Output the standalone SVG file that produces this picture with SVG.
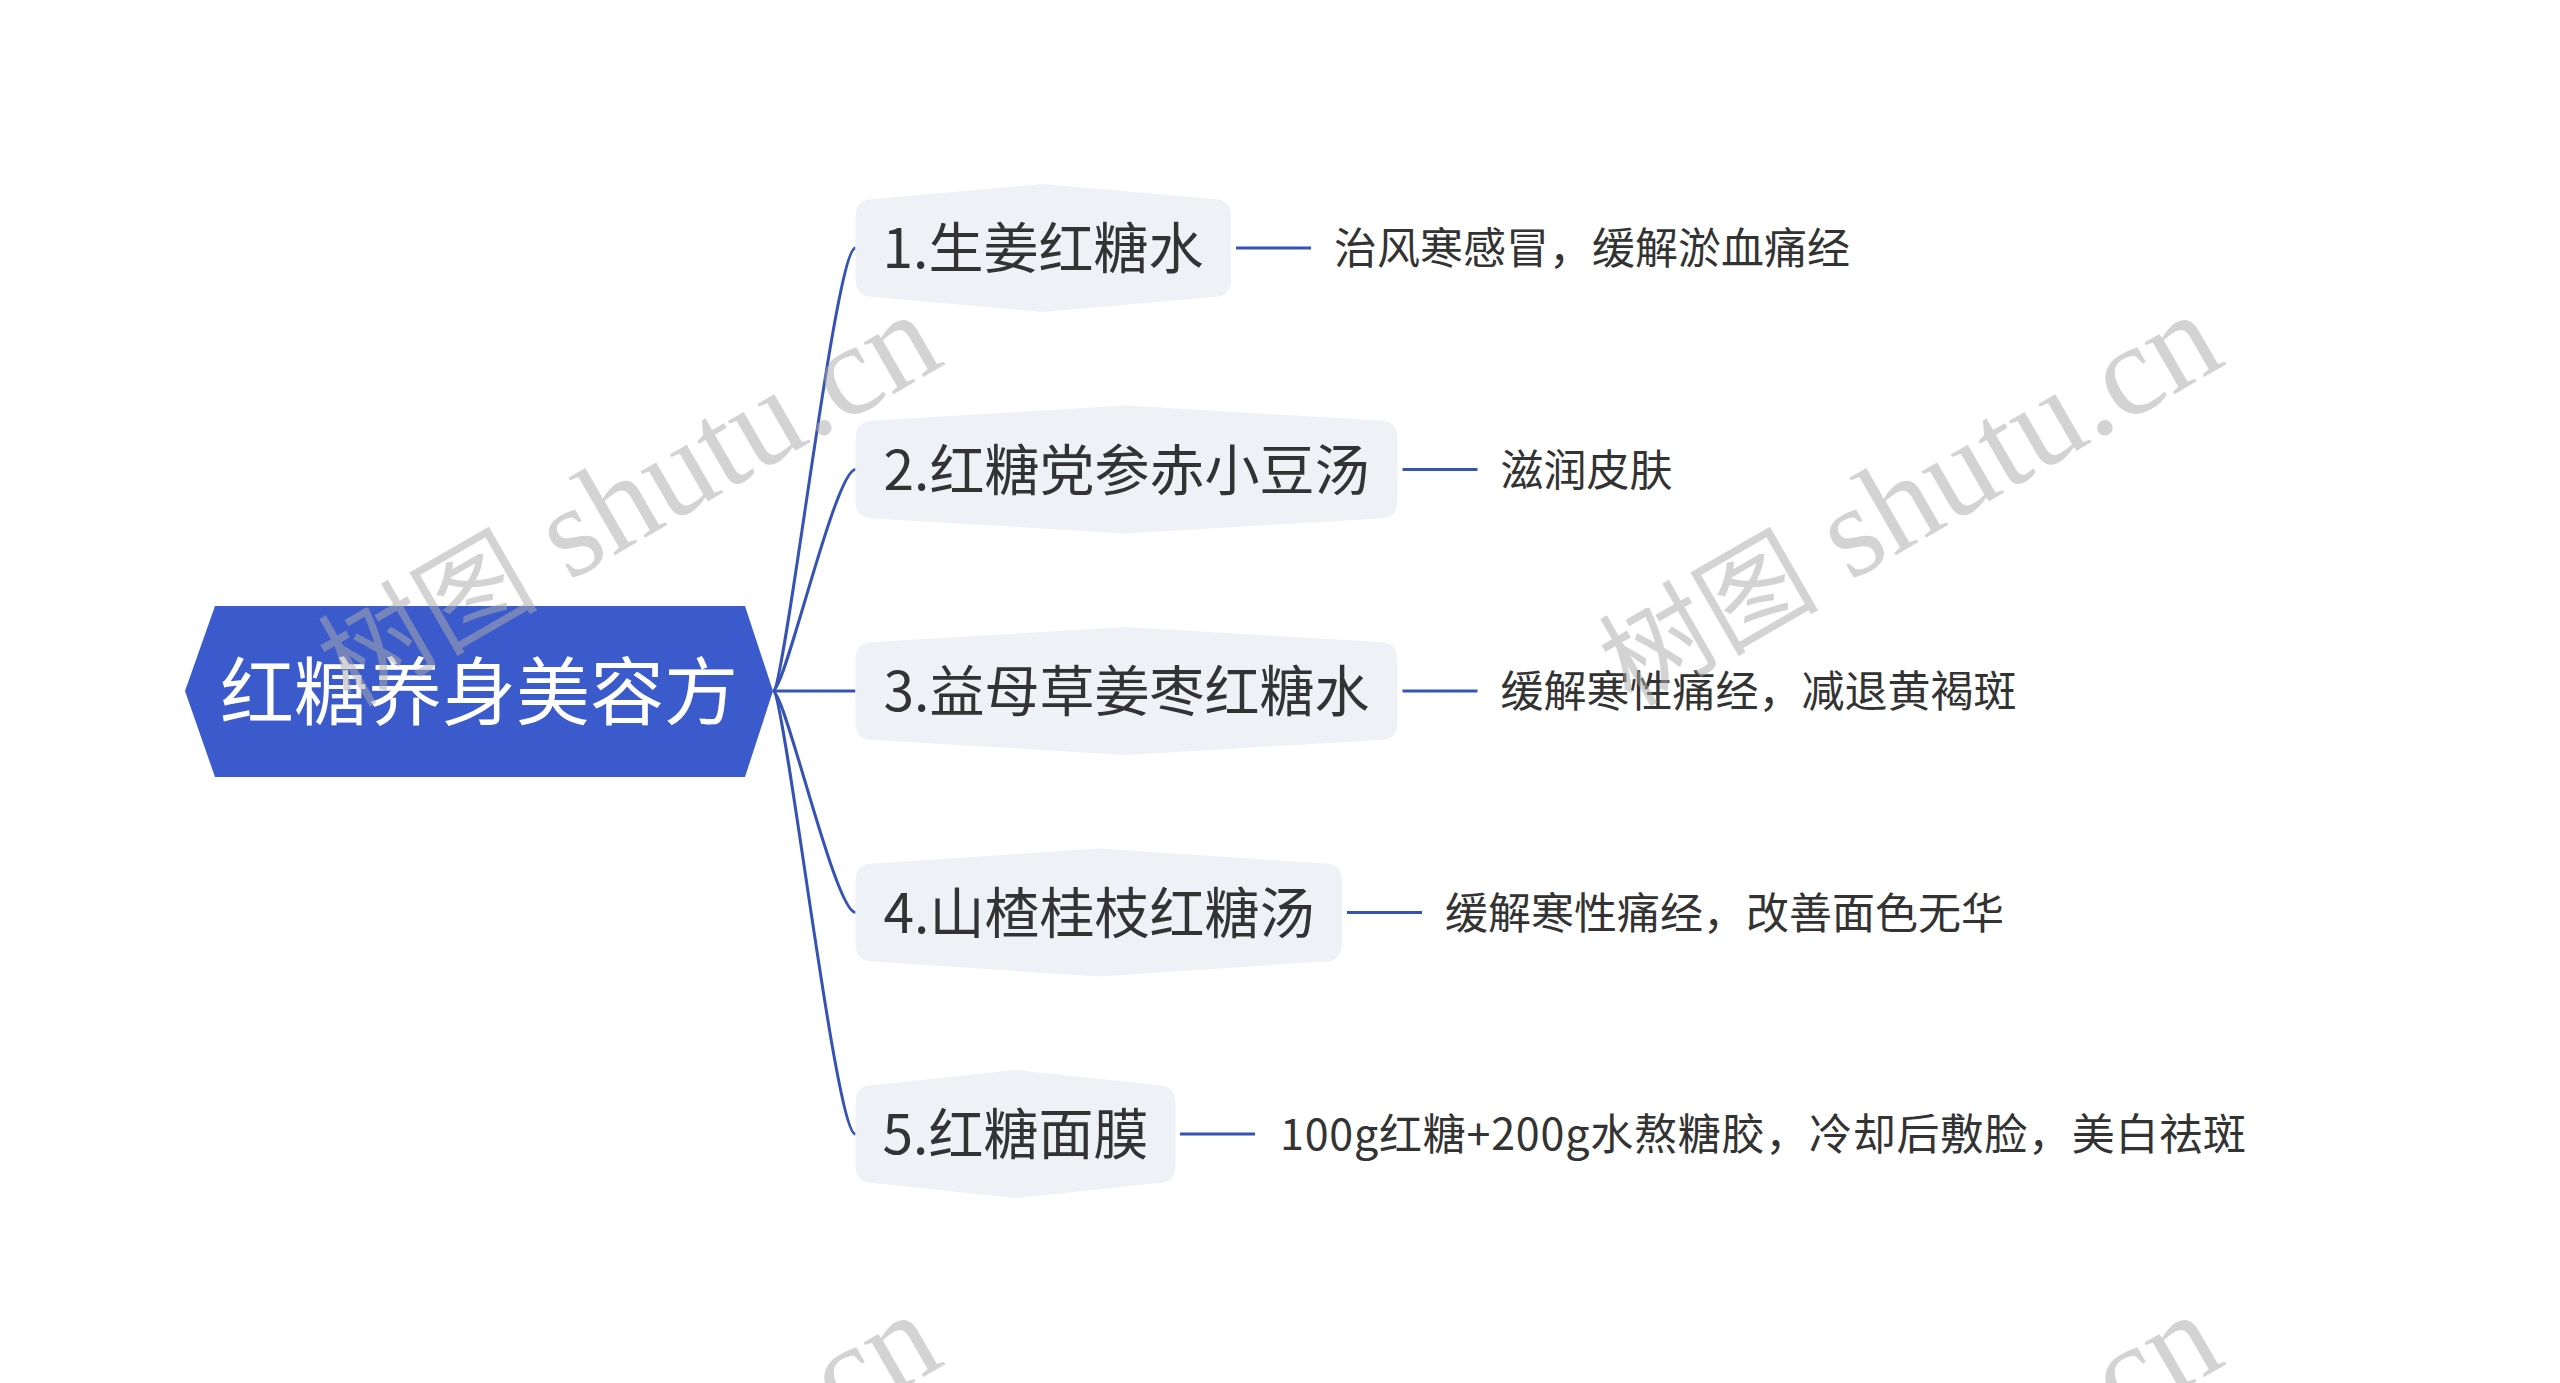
<svg xmlns="http://www.w3.org/2000/svg" width="2560" height="1383" viewBox="0 0 2560 1383">
<style>
.bg{fill:#ffffff}
.root{fill:#3b5bcc}
.rootText{font-family:"Noto Sans CJK SC","Noto Sans",sans-serif;font-size:74px;fill:#ffffff;text-anchor:middle;dominant-baseline:central}
.branch{fill:#eef1f5}
.branchText{font-family:"Noto Sans CJK SC","Noto Sans",sans-serif;font-size:55px;fill:#333333;text-anchor:middle;dominant-baseline:central}
.leafText{font-family:"Noto Sans CJK SC","Noto Sans",sans-serif;font-size:43px;fill:#333333;dominant-baseline:central}
.conn{fill:none;stroke:#3553b4;stroke-width:3}
.wm{font-family:"Liberation Serif","Noto Sans CJK SC",serif;font-size:130px;fill:#aaaaaa;fill-opacity:0.52}
.wmc{font-size:110px}
</style>
<rect class="bg" x="0" y="0" width="2560" height="1383"/>

<g id="connectors">
  <path class="conn" d="M773,691 C785,691 835,248 855.5,248"/>
  <path class="conn" d="M773,691 C785,691 835,469.5 855.5,469.5"/>
  <path class="conn" d="M773,691 L855.5,691"/>
  <path class="conn" d="M773,691 C785,691 835,912.5 855.5,912.5"/>
  <path class="conn" d="M773,691 C785,691 835,1134 855.5,1134"/>
  <path class="conn" d="M1236,248 L1311,248"/>
  <path class="conn" d="M1402.5,469.5 L1477.5,469.5"/>
  <path class="conn" d="M1402.5,691 L1477.5,691"/>
  <path class="conn" d="M1347,912.5 L1422,912.5"/>
  <path class="conn" d="M1180,1134 L1255,1134"/>
</g>

<g id="root">
  <polygon class="root" points="185,691 215,606 745,606 773,691 745,777 215,777"/>
  <text class="rootText" x="479" y="686">红糖养身美容方</text>
</g>

<g id="node1">
  <path class="branch" d="M855.5,217 Q855.5,199 873.5,199 L1043,184 L1213,199 Q1231,199 1231,217 L1231,279 Q1231,297 1213,297 L1043,312 L873.5,297 Q855.5,297 855.5,279 Z"/>
  <text class="branchText" x="1043" y="244">1.生姜红糖水</text>
</g>
<g id="leaf1">
  <text class="leafText" x="1334" y="245">治风寒感冒，缓解淤血痛经</text>
</g>

<g id="node2">
  <path class="branch" d="M855.5,438.5 Q855.5,420.5 873.5,420.5 L1126.5,405.5 L1379.5,420.5 Q1397.5,420.5 1397.5,438.5 L1397.5,500.5 Q1397.5,518.5 1379.5,518.5 L1126.5,533.5 L873.5,518.5 Q855.5,518.5 855.5,500.5 Z"/>
  <text class="branchText" x="1126.5" y="465.5">2.红糖党参赤小豆汤</text>
</g>
<g id="leaf2">
  <text class="leafText" x="1500.5" y="466.5">滋润皮肤</text>
</g>

<g id="node3">
  <path class="branch" d="M855.5,660 Q855.5,642 873.5,642 L1126.5,627 L1379.5,642 Q1397.5,642 1397.5,660 L1397.5,722 Q1397.5,740 1379.5,740 L1126.5,755 L873.5,740 Q855.5,740 855.5,722 Z"/>
  <text class="branchText" x="1126.5" y="687">3.益母草姜枣红糖水</text>
</g>
<g id="leaf3">
  <text class="leafText" x="1500.5" y="688">缓解寒性痛经，减退黄褐斑</text>
</g>

<g id="node4">
  <path class="branch" d="M855.5,881.5 Q855.5,863.5 873.5,863.5 L1099,848.5 L1324,863.5 Q1342,863.5 1342,881.5 L1342,943.5 Q1342,961.5 1324,961.5 L1099,976.5 L873.5,961.5 Q855.5,961.5 855.5,943.5 Z"/>
  <text class="branchText" x="1099" y="908.5">4.山楂桂枝红糖汤</text>
</g>
<g id="leaf4">
  <text class="leafText" x="1445" y="909.5">缓解寒性痛经，改善面色无华</text>
</g>

<g id="node5">
  <path class="branch" d="M855.5,1103 Q855.5,1085 873.5,1085 L1015.5,1070 L1157.5,1085 Q1175.5,1085 1175.5,1103 L1175.5,1165 Q1175.5,1183 1157.5,1183 L1015.5,1198 L873.5,1183 Q855.5,1183 855.5,1165 Z"/>
  <text class="branchText" x="1015.5" y="1130">5.红糖面膜</text>
</g>
<g id="leaf5">
  <text class="leafText" x="1280" y="1131" textLength="966" lengthAdjust="spacing">100g红糖+200g水熬糖胶，冷却后敷脸，美白祛斑</text>
</g>

<g id="watermark">
  <text class="wm" transform="translate(350,708) rotate(-30)"><tspan class="wmc">树图</tspan> shutu.cn</text>
  <text class="wm" transform="translate(1631,708) rotate(-30)"><tspan class="wmc">树图</tspan> shutu.cn</text>
  <text class="wm" transform="translate(350,1708) rotate(-30)"><tspan class="wmc">树图</tspan> shutu.cn</text>
  <text class="wm" transform="translate(1631,1708) rotate(-30)"><tspan class="wmc">树图</tspan> shutu.cn</text>
</g>
</svg>
